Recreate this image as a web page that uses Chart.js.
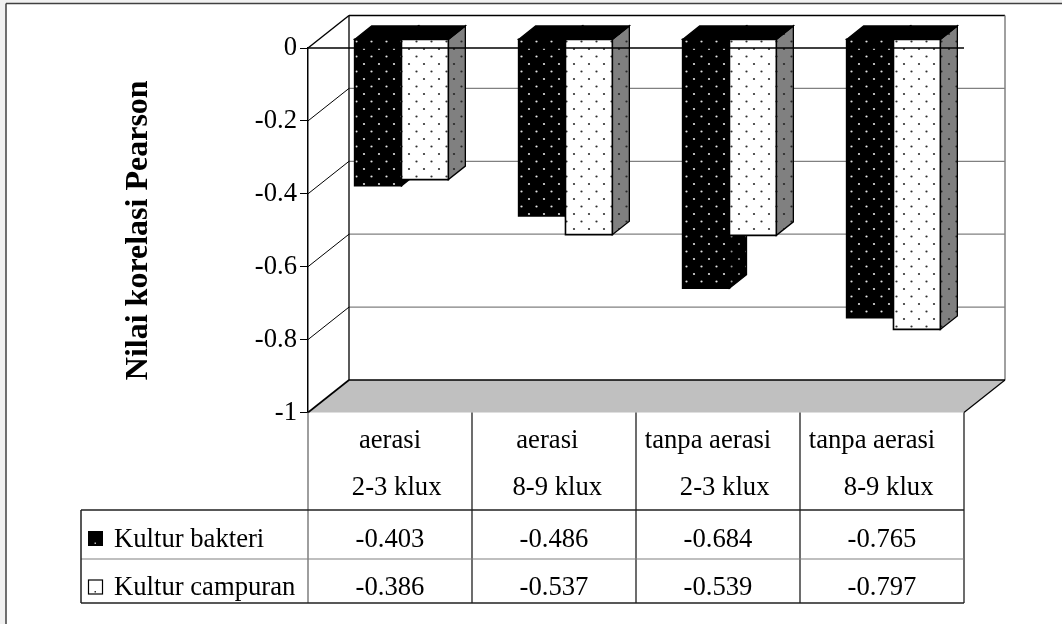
<!DOCTYPE html>
<html>
<head>
<meta charset="utf-8">
<script src="https://cdn.jsdelivr.net/npm/chart.js@4/dist/chart.umd.min.js"></script>
<style>
  html, body { margin: 0; padding: 0; background: #ffffff; }
  canvas { display: block; }
</style>
</head>
<body>
<canvas id="chart" width="1062" height="624"></canvas>
<script>
// Pearson correlation values per treatment (labels keep their original padding spaces)
const categories = [
  ["aerasi", "  2-3 klux"],
  ["aerasi  ", " 8-9 klux"],
  ["tanpa aerasi   ", "  2-3 klux"],
  ["tanpa aerasi   ", "  8-9 klux"]
];
const seriesNames = ["Kultur bakteri", "Kultur campuran"];
const kulturBakteri = [-0.403, -0.486, -0.684, -0.765];
const kulturCampuran = [-0.386, -0.537, -0.539, -0.797];
const yTicks = [-1, -0.8, -0.6, -0.4, -0.2, 0];
const yTitle = "Nilai korelasi Pearson";

const SERIF = "'Liberation Serif', 'Times New Roman', serif";
const FONT_PX = 26.67;

// 3D look: full depth vector of the plot box and the depth slice the columns occupy
const DEPTH = { dx: 41, dy: -32.5 };
const BAR_DEPTH = [0.28, 0.695];

const canvas = document.getElementById('chart');
const ctx = canvas.getContext('2d');

function dotPattern(bg, dot) {
  const t = document.createElement('canvas');
  t.width = 15; t.height = 15;
  const g = t.getContext('2d');
  g.fillStyle = bg; g.fillRect(0, 0, 15, 15);
  g.fillStyle = dot;
  g.beginPath(); g.arc(4, 4, 1.1, 0, Math.PI * 2); g.fill();
  g.beginPath(); g.arc(11.5, 11.5, 1.1, 0, Math.PI * 2); g.fill();
  return ctx.createPattern(t, 'repeat');
}

const fills = [
  { front: dotPattern('#000000', '#e0e0e0'), side: dotPattern('#000000', '#9a9a9a'), top: '#000000' },
  { front: dotPattern('#ffffff', '#303030'), side: dotPattern('#808080', '#262626'), top: '#000000' }
];

function poly(pts, fill, stroke, lw) {
  ctx.beginPath();
  ctx.moveTo(pts[0][0], pts[0][1]);
  for (let i = 1; i < pts.length; i++) ctx.lineTo(pts[i][0], pts[i][1]);
  ctx.closePath();
  if (fill) { ctx.fillStyle = fill; ctx.fill(); }
  if (stroke) { ctx.strokeStyle = stroke; ctx.lineWidth = lw || 1; ctx.stroke(); }
}

function line(x1, y1, x2, y2, color, lw) {
  ctx.beginPath();
  ctx.moveTo(x1, y1); ctx.lineTo(x2, y2);
  ctx.strokeStyle = color; ctx.lineWidth = lw; ctx.stroke();
}

function drawBox(x0, x1, yBase, yVal, f) {
  const fa = BAR_DEPTH[0] * DEPTH.dx, ga = BAR_DEPTH[0] * DEPTH.dy;
  const fb = BAR_DEPTH[1] * DEPTH.dx, gb = BAR_DEPTH[1] * DEPTH.dy;
  ctx.lineJoin = 'miter';
  // right side face
  poly([[x1 + fa, yBase + ga], [x1 + fb, yBase + gb], [x1 + fb, yVal + gb], [x1 + fa, yVal + ga]], f.side, '#000', 1.3);
  // top face
  poly([[x0 + fa, yBase + ga], [x0 + fb, yBase + gb], [x1 + fb, yBase + gb], [x1 + fa, yBase + ga]], f.top, '#000', 1.3);
  // front face
  poly([[x0 + fa, yBase + ga], [x1 + fa, yBase + ga], [x1 + fa, yVal + ga], [x0 + fa, yVal + ga]], f.front, '#000', 1.6);
}

const scene = {
  id: 'scene',
  beforeDraw(chart) {
    const ca = chart.chartArea;
    const ys = chart.scales.y;
    const W = chart.width, H = chart.height;
    // page and outer frame
    ctx.save();
    ctx.fillStyle = '#f1f1f1';
    ctx.fillRect(0, 0, W, H);
    ctx.fillStyle = '#ffffff';
    ctx.fillRect(6, 3.5, W, H);
    line(6, 3.5, W, 3.5, '#404040', 1.5);
    line(6, 3.5, 6, H, '#404040', 1.5);

    const L = ca.left, R = ca.right, T = ca.top, B = ca.bottom;
    const dx = DEPTH.dx, dy = DEPTH.dy;

    // back wall gridlines and side wall diagonals
    yTicks.forEach(v => {
      const yf = ys.getPixelForValue(v);
      if (v !== 0 && v !== -1) line(L + dx, yf + dy, R + dx, yf + dy, '#808080', 1.3);
      if (v !== -1) line(L, yf, L + dx, yf + dy, '#000', v === 0 ? 1.4 : 1);
    });
    // back wall edges
    line(L + dx, T + dy, R + dx, T + dy, '#000', 1.5);
    line(L + dx, T + dy, L + dx, B + dy, '#000', 1.3);
    line(R + dx, T + dy, R + dx, B + dy, '#808080', 1.5);

    // floor
    poly([[L, B], [L + dx, B + dy], [R + dx, B + dy], [R, B]], '#c0c0c0', null);
    line(L + dx, B + dy, R + dx, B + dy, '#000', 1.3);
    line(L, B, L + dx, B + dy, '#000', 1.6);
    line(R, B, R + dx, B + dy, '#000', 1.2);
    ctx.restore();
  },
  afterDatasetsDraw(chart) {
    const ca = chart.chartArea;
    const ys = chart.scales.y;
    ctx.save();
    const metas = chart.data.datasets.map((d, i) => chart.getDatasetMeta(i));
    for (let i = 0; i < categories.length; i++) {
      metas.forEach((meta, di) => {
        const el = meta.data[i];
        const p = el.getProps(['x', 'y', 'base', 'width'], true);
        drawBox(p.x - p.width / 2, p.x + p.width / 2, p.base, p.y, fills[di]);
      });
    }
    // category axis line at zero, on the front plane
    const y0 = ys.getPixelForValue(0);
    line(ca.left, y0, ca.right, y0, '#000', 1.5);
    ctx.restore();
  },
  afterDraw(chart) {
    const ca = chart.chartArea;
    const xs = chart.scales.x;
    const L = ca.left, R = ca.right, B = ca.bottom;
    const rowTop = 510, rowMid = 559, rowBot = 603, legendLeft = 81;
    const colW = (R - L) / categories.length;
    ctx.save();
    // grid of the data table
    for (let k = 0; k <= categories.length; k++) {
      const x = L + k * colW;
      line(x, B, x, rowBot, k === 0 ? '#6a6a6a' : '#202020', 1.3);
    }
    line(legendLeft, rowTop, R, rowTop, '#202020', 1.3);
    line(legendLeft, rowMid, R, rowMid, '#808080', 1.2);
    line(legendLeft, rowBot, R, rowBot, '#202020', 1.5);
    line(legendLeft, rowTop, legendLeft, rowBot, '#202020', 1.5);

    ctx.fillStyle = '#000';
    ctx.font = FONT_PX + 'px ' + SERIF;
    ctx.textAlign = 'center';
    ctx.textBaseline = 'alphabetic';
    categories.forEach((lines, i) => {
      const cx = xs.getPixelForValue(i);
      ctx.fillText(lines[0], cx, 448);
      ctx.fillText(lines[1], cx, 495);
    });
    const rows = [kulturBakteri, kulturCampuran];
    const baselines = [546.5, 595];
    rows.forEach((vals, r) => {
      vals.forEach((v, i) => {
        ctx.fillText(v.toFixed(3), xs.getPixelForValue(i), baselines[r]);
      });
    });
    // legend keys with series names
    ctx.textAlign = 'left';
    seriesNames.forEach((name, r) => {
      const by = baselines[r];
      if (r === 0) {
        ctx.fillStyle = '#000';
        ctx.fillRect(88, by - 15.5, 15, 15);
        ctx.fillStyle = '#bbbbbb';
        ctx.fillRect(94.5, by - 4, 1.5, 1.5);
      } else {
        ctx.fillStyle = '#fff';
        ctx.fillRect(88.5, by - 15, 14, 14);
        ctx.strokeStyle = '#000'; ctx.lineWidth = 1.2;
        ctx.strokeRect(88.5, by - 15, 14, 14);
        ctx.fillStyle = '#333';
        ctx.fillRect(94.5, by - 4, 1.5, 1.5);
      }
      ctx.fillStyle = '#000';
      ctx.fillText(name, 114, by);
    });
    ctx.restore();
  }
};

new Chart(ctx, {
  type: 'bar',
  data: {
    labels: categories,
    datasets: [
      { label: seriesNames[0], data: kulturBakteri, backgroundColor: 'rgba(0,0,0,0)', borderWidth: 0 },
      { label: seriesNames[1], data: kulturCampuran, backgroundColor: 'rgba(0,0,0,0)', borderWidth: 0 }
    ]
  },
  options: {
    responsive: false,
    animation: false,
    devicePixelRatio: 1,
    layout: { padding: { left: 0, top: 48, right: 98, bottom: 211.5 } },
    datasets: { bar: { categoryPercentage: 2 / 3.5, barPercentage: 1 } },
    plugins: { legend: { display: false }, tooltip: { enabled: false } },
    scales: {
      x: { display: false, offset: true },
      y: {
        min: -1,
        max: 0,
        afterFit(scale) { scale.width = 308; },
        afterBuildTicks(scale) { scale.ticks = yTicks.map(v => ({ value: v })); },
        ticks: {
          color: '#000',
          padding: 3,
          font: { family: SERIF, size: FONT_PX },
          callback: v => String(v)
        },
        grid: { drawOnChartArea: false, drawTicks: true, tickLength: 8, tickColor: '#000', tickWidth: 1 },
        border: { display: true, color: '#000', width: 1.5 },
        title: {
          display: true,
          text: yTitle,
          color: '#000',
          font: { family: SERIF, size: 32, weight: 'bold' },
          padding: { top: 120, bottom: 0 }
        }
      }
    }
  },
  plugins: [scene]
});
</script>
</body>
</html>
